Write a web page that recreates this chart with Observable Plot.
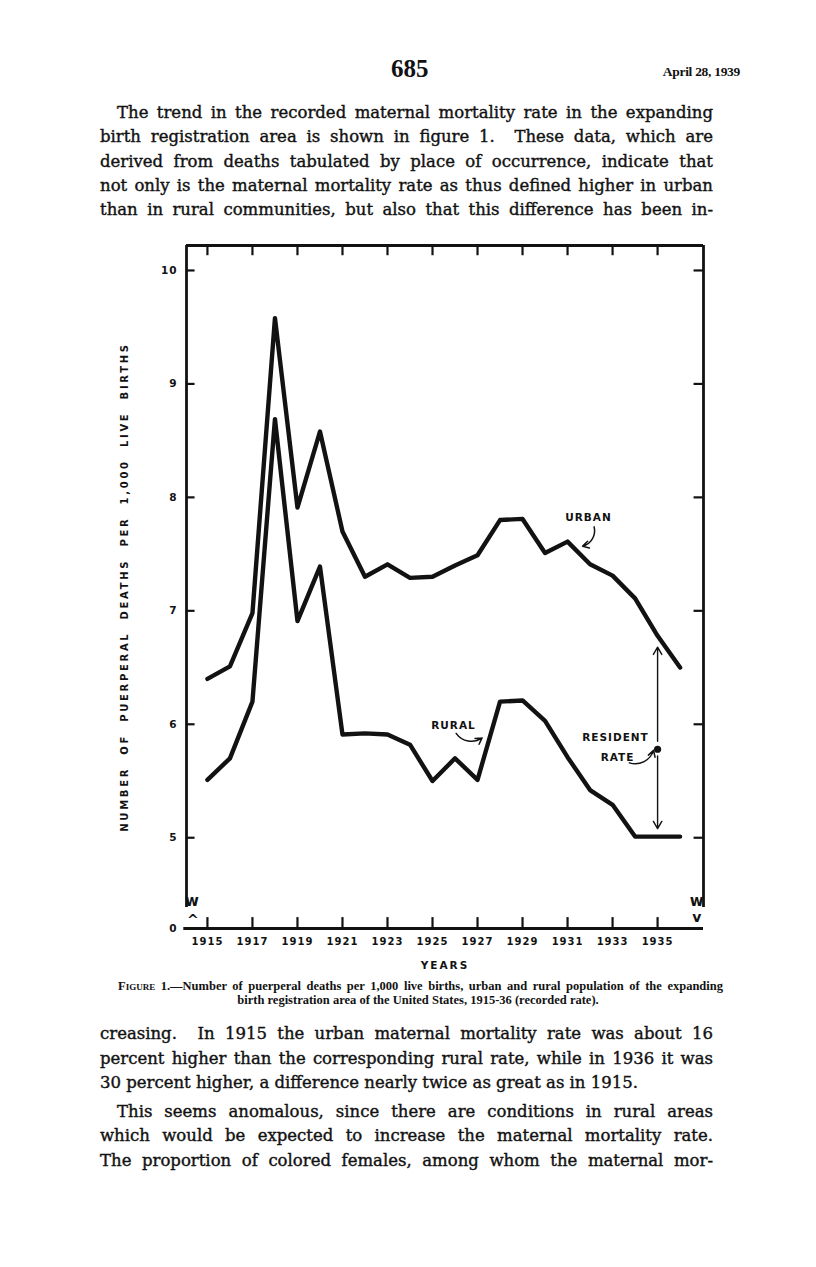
<!DOCTYPE html>
<html>
<head>
<meta charset="utf-8">
<script src="https://cdn.jsdelivr.net/npm/d3@7"></script>
<script src="https://cdn.jsdelivr.net/npm/@observablehq/plot@0.6"></script>
<style>
  html, body { margin: 0; padding: 0; background: #fff; width: 816px; height: 1267px; overflow: hidden; }
  #page { position: relative; width: 816px; height: 1267px; background: #fff; color: #121212; font-family: "DejaVu Serif", "Liberation Serif", serif; overflow: hidden; }
  .ln { position: absolute; left: 100px; font-size: 16.5px; line-height: 24px; height: 24px; white-space: nowrap; -webkit-text-stroke: 0.4px #121212; }
  #pgnum { position: absolute; left: 391px; top: 55px; font-size: 25px; font-weight: bold; font-family: "Liberation Serif", serif; }
  #date { position: absolute; right: 76px; top: 64px; font-size: 13.5px; font-weight: bold; font-family: "Liberation Serif", serif; letter-spacing: -0.3px; }
  .cap { position: absolute; font-size: 12.5px; line-height: 14px; font-weight: bold; white-space: nowrap; font-family: "Liberation Serif", serif; }
  #cap2 { left: 0; width: 836px; top: 993px; text-align: center; }
  #chart { position: absolute; left: 0; top: 230px; }
  #chart svg text { font-family: "DejaVu Sans", sans-serif; font-weight: bold; letter-spacing: 1px; }
  #chart svg g[aria-label="y-axis label"] text { letter-spacing: 2.7px; word-spacing: 6px; font-size: 10px; }
  #chart svg g[aria-label="x-axis label"] text { letter-spacing: 2px; font-size: 10.5px; }
</style>
</head>
<body>
<div id="page">
  <div id="pgnum">685</div>
  <div id="date">April 28, 1939</div>

  <div class="ln" data-l="117" data-w="596" style="top:101px">The trend in the recorded maternal mortality rate in the expanding</div>
  <div class="ln" data-l="100" data-w="613" style="top:125px">birth registration area is shown in figure 1.&nbsp; These data, which are</div>
  <div class="ln" data-l="100" data-w="613" style="top:150px">derived from deaths tabulated by place of occurrence, indicate that</div>
  <div class="ln" data-l="100" data-w="613" style="top:174px">not only is the maternal mortality rate as thus defined higher in urban</div>
  <div class="ln" data-l="100" data-w="613" style="top:198px">than in rural communities, but also that this difference has been in-</div>

  <div id="chart"></div>

  <div class="cap" data-l="118" data-w="605" style="top:979px"><span style="font-variant:small-caps">Figure</span> 1.—Number of puerperal deaths per 1,000 live births, urban and rural population of the expanding</div>
  <div class="cap" id="cap2">birth registration area of the United States, 1915-36 (recorded rate).</div>

  <div class="ln" data-l="100" data-w="613" style="top:1022px">creasing.&nbsp; In 1915 the urban maternal mortality rate was about 16</div>
  <div class="ln" data-l="100" data-w="613" style="top:1047px">percent higher than the corresponding rural rate, while in 1936 it was</div>
  <div class="ln" data-l="100" style="top:1071px">30 percent higher, a difference nearly twice as great as in 1915.</div>
  <div class="ln" data-l="117" data-w="596" style="top:1100px">This seems anomalous, since there are conditions in rural areas</div>
  <div class="ln" data-l="100" data-w="613" style="top:1124px">which would be expected to increase the maternal mortality rate.</div>
  <div class="ln" data-l="100" data-w="613" style="top:1149px">The proportion of colored females, among whom the maternal mor-</div>
</div>

<script>
// ---- data ----
const years = [1915, 1916, 1917, 1918, 1919, 1920, 1921, 1922, 1923, 1924, 1925,
               1926, 1927, 1928, 1929, 1930, 1931, 1932, 1933, 1934, 1935, 1936];
const urban = [6.40, 6.51, 6.98, 9.58, 7.91, 8.58, 7.70, 7.30, 7.41, 7.29, 7.30,
               7.40, 7.49, 7.80, 7.81, 7.51, 7.61, 7.41, 7.31, 7.11, 6.78, 6.50];
const rural = [5.51, 5.70, 6.20, 8.69, 6.91, 7.39, 5.91, 5.92, 5.91, 5.82, 5.50,
               5.70, 5.51, 6.20, 6.21, 6.03, 5.71, 5.42, 5.29, 5.01, 5.01, 5.01];
const residentYear = 1935;
const residentRate = 5.78;

const xTickYears = [1915, 1917, 1919, 1921, 1923, 1925, 1927, 1929, 1931, 1933, 1935];
const yTickValues = [5, 6, 7, 8, 9, 10];
const yBaseValue = [0];

const yTitle = "NUMBER OF PUERPERAL DEATHS PER 1,000 LIVE BIRTHS";
const xTitle = "YEARS";

const labelTexts = ["URBAN", "RURAL", "RESIDENT", "RATE"];
const labelYears = [1931.93, 1925.93, 1933.13, 1933.22];
const labelValues = [7.82, 5.99, 5.88, 5.71];

// curved pointer arrows (urban, rural, resident rate)
const urbanPointer = {x1: 1932.18, y1: 7.74, x2: 1931.67, y2: 7.57};
const ruralPointer = {x1: 1926.05, y1: 5.92, x2: 1927.20, y2: 5.88};
const residentPointer = {x1: 1933.75, y1: 5.66, x2: 1934.82, y2: 5.77};

// ---- build tables ----
const table = years.map((year, i) => ({year, urban: urban[i], rural: rural[i]}));
const labels = labelTexts.map((text, i) => ({text, year: labelYears[i], value: labelValues[i]}));

const xMin = 1914.07, xMax = 1937.04, yTop = 10.22, breakAt = 1.15;
const ink = "#121212";
// broken axis: the 0–5 stretch is compressed into a short gap below 5
const brokenAxis = v => (v < 5 ? 4.2 + v * 0.16 : v);
const arrowStyle = {x1: "x1", y1: "y1", x2: "x2", y2: "y2", stroke: ink, strokeWidth: 1.5, headLength: 7};

const chart = Plot.plot({
  width: 816,
  height: 760,
  marginLeft: 186,
  marginRight: 113,
  marginTop: 15,
  marginBottom: 62,
  x: {domain: [xMin, xMax], axis: null},
  y: {domain: [4.2, yTop], transform: brokenAxis, axis: null},
  marks: [
    // frame
    Plot.ruleY([yTop], {x1: xMin, x2: xMax, stroke: ink, strokeWidth: 2.8}),
    Plot.ruleY(yBaseValue, {x1: xMin - 0.12, x2: xMax, stroke: ink, strokeWidth: 2.8}),
    Plot.ruleX([xMin, xMax], {y1: breakAt, y2: yTop, stroke: ink, strokeWidth: 2.8}),
    // inward ticks
    Plot.ruleX(xTickYears, {y1: yTop, y2: yTop - 0.09, stroke: ink, strokeWidth: 2.2}),
    Plot.ruleX(xTickYears, {y1: 0, y2: 0.6, stroke: ink, strokeWidth: 2.2}),
    Plot.ruleY(yTickValues, {x1: xMin, x2: xMin + 0.38, stroke: ink, strokeWidth: 2.2}),
    Plot.ruleY(yTickValues, {x1: xMax, x2: xMax - 0.42, stroke: ink, strokeWidth: 2.2}),
    // axis break marks
    Plot.text(["w"], {x: xMin + 0.26, y: 1.5, text: d => d, fontSize: 15, fill: ink}),
    Plot.text(["^"], {x: xMin + 0.3, y: 0.45, text: d => d, fontSize: 14, fill: ink}),
    Plot.text(["w"], {x: xMax - 0.28, y: 1.5, text: d => d, fontSize: 15, fill: ink}),
    Plot.text(["v"], {x: xMax - 0.28, y: 0.6, text: d => d, fontSize: 14, fill: ink}),
    // axes (labels only)
    Plot.axisX({anchor: "bottom", ticks: xTickYears, tickSize: 0, tickPadding: 9, tickFormat: d => String(d),
      fontSize: 10, label: xTitle, labelAnchor: "center", labelOffset: 40, labelArrow: "none", fill: ink}),
    Plot.axisY({anchor: "left", ticks: yTickValues, tickSize: 0, tickPadding: 9, tickFormat: d => String(d),
      fontSize: 10.5, label: yTitle, labelAnchor: "center", labelOffset: 66, labelArrow: "none", fill: ink}),
    Plot.text(yBaseValue, {x: xMin, y: d => d, text: d => String(d), dx: -9, textAnchor: "end", fontSize: 10.5, fill: ink}),
    // data lines
    Plot.line(table, {x: "year", y: "urban", stroke: ink, strokeWidth: 4.4}),
    Plot.line(table, {x: "year", y: "rural", stroke: ink, strokeWidth: 4.4}),
    // resident rate
    Plot.dot([residentRate], {x: residentYear, y: d => d, r: 3.6, fill: ink, stroke: "none"}),
    Plot.arrow([residentRate], {x1: residentYear, x2: residentYear, y1: d => d + 0.07, y2: 6.68, stroke: ink, strokeWidth: 1.4, headLength: 9}),
    Plot.arrow([residentRate], {x1: residentYear, x2: residentYear, y1: d => d - 0.06, y2: 5.08, stroke: ink, strokeWidth: 1.4, headLength: 9}),
    // annotations
    Plot.text(labels, {x: "year", y: "value", text: "text", fontSize: 10.5, fill: ink}),
    Plot.arrow([urbanPointer], {...arrowStyle, bend: 45}),
    Plot.arrow([ruralPointer], {...arrowStyle, bend: -45}),
    Plot.arrow([residentPointer], {...arrowStyle, bend: -45})
  ]
});
document.getElementById("chart").appendChild(chart);

// justify single lines without wrapping
document.querySelectorAll("#page [data-l]").forEach(el => {
  el.style.left = el.dataset.l + "px";
  const target = +el.dataset.w;
  if (!target) return;
  const natural = el.getBoundingClientRect().width;
  const spaces = (el.textContent.match(/[ \u00a0]/g) || []).length;
  if (spaces > 0) el.style.wordSpacing = ((target - natural) / spaces) + "px";
});
</script>
</body>
</html>
